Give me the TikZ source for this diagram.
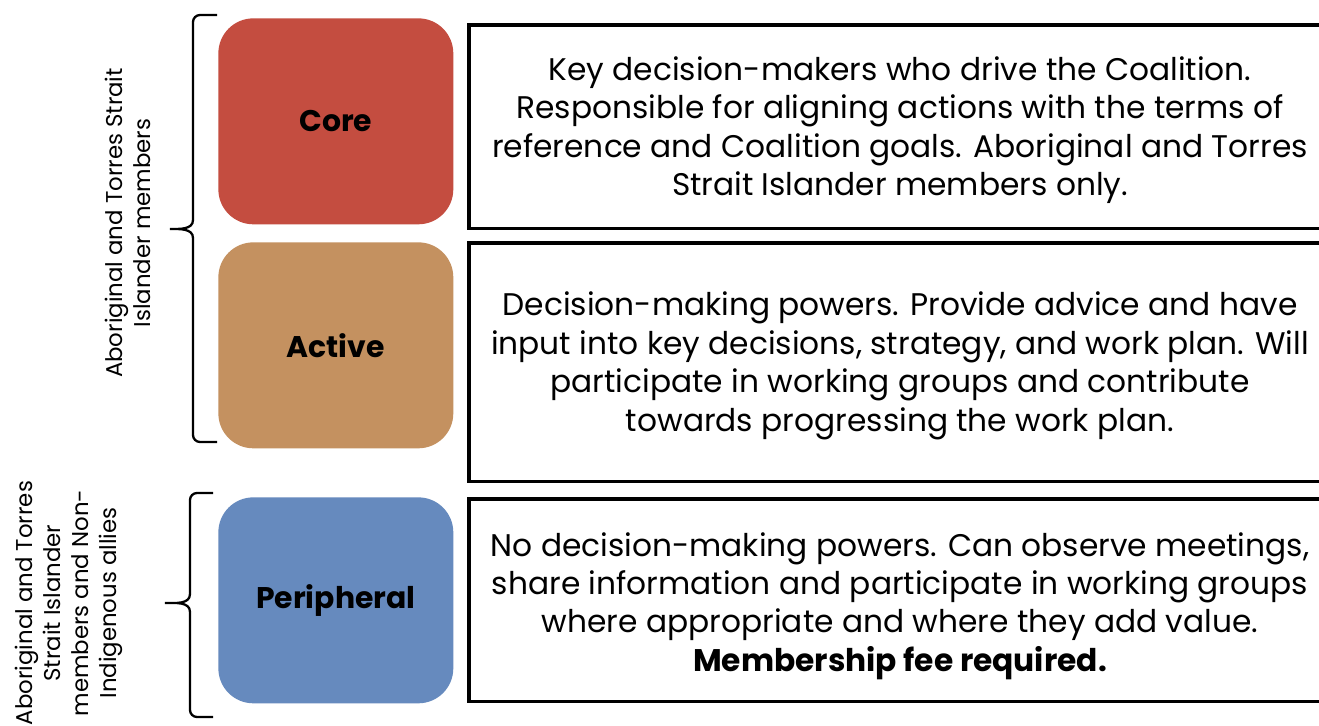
\documentclass[tikz,border=0pt]{standalone}
\usepackage{fontspec}
\setmainfont{Poppins}
\usepackage{xcolor}
\usetikzlibrary{positioning,calc}

\definecolor{corered}{RGB}{196,77,64}
\definecolor{activetan}{RGB}{196,145,96}
\definecolor{periblue}{RGB}{102,138,190}

\tikzset{
  tier/.style={rounded corners=0.7cm, minimum width=4.7cm, minimum height=4.12cm,
    anchor=north west, font=\fontsize{17}{20}\selectfont\bfseries, inner sep=0pt},
  descbox/.style={draw, line width=2pt, minimum width=17.6cm, anchor=north west},
  desctext/.style={align=center, font=\fontsize{17.8}{21.9}\selectfont},
  sidelabel/.style={rotate=90, align=center, font=\fontsize{13}{16}\selectfont},
  brace/.style={line width=1.3pt}
}

\begin{document}
\begin{tikzpicture}[x=0.02cm, y=-0.02cm]
    \clip (0,0) rectangle (1319,726);
    \fill[white] (0,0) rectangle (1319,726);

    % Draw the tiers
    \node[tier, fill=corered] (core) at (218,18) {Core};
    \node[tier, fill=activetan] (active) at (218,242) {Active};
    \node[tier, fill=periblue] (peripheral) at (218,497) {Peripheral};

    % Draw the description boxes
    \node[descbox, minimum height=4.08cm] (coredesc) at (467,23) {};
    \node[descbox, minimum height=4.78cm] (activedesc) at (467,241) {};
    \node[descbox, minimum height=4.06cm] (peridesc) at (467,497) {};

    % Draw the description texts
    \node[desctext] (coretext) at (900,130) {Key decision-makers who drive the Coalition.\\
      Responsible for aligning actions with the terms of\\
      reference and Coalition goals. Aboriginal and Torres\\
      Strait Islander members only.};
    \node[desctext] (activetext) at (900,366) {Decision-making powers. Provide advice and have\\
      input into key decisions, strategy, and work plan. Will\\
      participate in working groups and contribute\\
      towards progressing the work plan.};
    \node[desctext] (peritext) at (900,606) {No decision-making powers. Can observe meetings,\\
      share information and participate in working groups\\
      where appropriate and where they add value.\\
      \textbf{Membership fee required.}};

    % Draw the braces
    \draw[brace] (217,15) -- (200,15) to[out=180,in=90] (193,22) -- (193,220)
      to[out=-90,in=0] (170,229) to[out=0,in=90] (193,238) -- (193,435)
      to[out=-90,in=180] (200,442) -- (217,442);
    \draw[brace] (213,493) -- (197,493) to[out=180,in=90] (190,500) -- (190,594)
      to[out=-90,in=0] (165,603) to[out=0,in=90] (190,612) -- (190,710)
      to[out=-90,in=180] (197,717) -- (213,717);

    % Draw the side labels
    \node[sidelabel] (memberlabel) at (128,223) {Aboriginal and Torres Strait\\Islander members};
    \node[sidelabel] (allylabel) at (69,603) {Aboriginal and Torres\\Strait Islander\\members and Non-\\Indigenous allies};
\end{tikzpicture}
\end{document}
